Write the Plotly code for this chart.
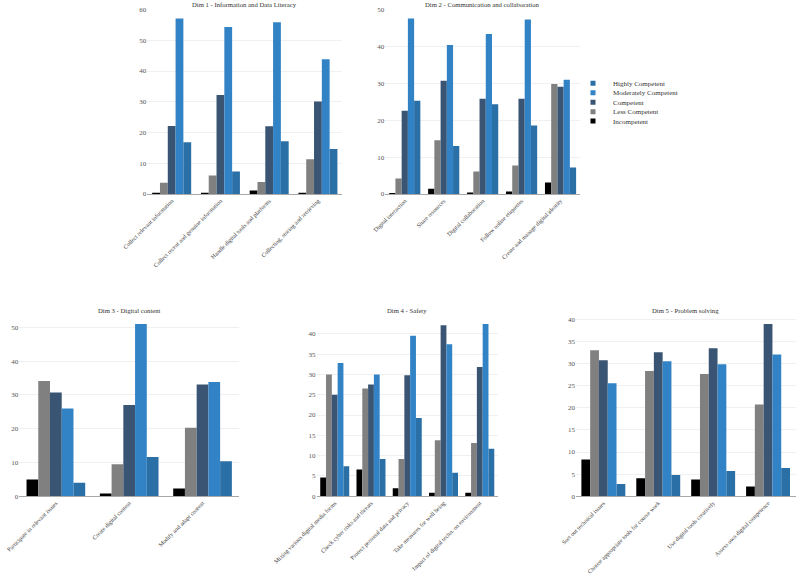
import plotly.graph_objects as go

W, H = 797, 579
FONT = "Liberation Serif"

levels = ["Incompetent", "Less Competent", "Competent", "Moderately Competent", "Highly Competent"]
colors = ["#000000", "#808080", "#3a5573", "#3283c6", "#2a6fa6"]

titles = [
    "Dim 1 - Information and Data Literacy",
    "Dim 2 - Communication and collaboration",
    "Dim 3 - Digital content",
    "Dim 4 - Safety",
    "Dim 5 - Problem solving",
]

dim1_items = ["Collect relevant information", "Collect recent and genuine information",
              "Handle digital tools and platforms", "Collecting, storing and retrieving"]
dim1_incompetent = [0.4, 0.4, 1.1, 0.4]
dim1_less = [3.7, 6.0, 3.9, 11.3]
dim1_competent = [22.1, 32.2, 22.0, 30.1]
dim1_moderately = [57.1, 54.3, 55.9, 43.8]
dim1_highly = [16.8, 7.3, 17.2, 14.6]

dim2_items = ["Digital interaction", "Share resources", "Digital collaboration",
              "Follow online etiquettes", "Create and manage digital identity"]
dim2_incompetent = [0.3, 1.4, 0.4, 0.7, 3.1]
dim2_less = [4.2, 14.6, 6.1, 7.7, 29.8]
dim2_competent = [22.6, 30.7, 25.8, 25.8, 29.1]
dim2_moderately = [47.6, 40.4, 43.4, 47.3, 31.0]
dim2_highly = [25.3, 13.0, 24.3, 18.6, 7.2]

dim3_items = ["Participate in relevant issues", "Create digital content", "Modify and adapt content"]
dim3_incompetent = [5.0, 0.8, 2.3]
dim3_less = [34.1, 9.5, 20.3]
dim3_competent = [30.7, 27.0, 33.1]
dim3_moderately = [26.0, 51.0, 33.8]
dim3_highly = [4.0, 11.6, 10.4]

dim4_items = ["Mixing various digital media forms", "Check cyber risks and threats",
              "Protect personal data and privacy", "Take measures for well being",
              "Impact of digital techn. on environment"]
dim4_incompetent = [4.6, 6.6, 2.0, 0.9, 0.9]
dim4_less = [30.0, 26.5, 9.2, 13.8, 13.1]
dim4_competent = [25.0, 27.5, 29.8, 42.1, 31.8]
dim4_moderately = [32.8, 30.0, 39.5, 37.4, 42.4]
dim4_highly = [7.4, 9.2, 19.3, 5.8, 11.7]

dim5_items = ["Sort out technical issues", "Choose appropriate tools for course work",
              "Use digital tools creatively", "Assess own digital competence"]
dim5_incompetent = [8.3, 4.1, 3.8, 2.2]
dim5_less = [33.0, 28.3, 27.6, 20.7]
dim5_competent = [30.7, 32.5, 33.4, 38.9]
dim5_moderately = [25.5, 30.5, 29.8, 32.0]
dim5_highly = [2.8, 4.8, 5.7, 6.4]

# (categories, series, tick step, axis top)
dims = [
    (dim1_items, [dim1_incompetent, dim1_less, dim1_competent, dim1_moderately, dim1_highly], 10, 60.05),
    (dim2_items, [dim2_incompetent, dim2_less, dim2_competent, dim2_moderately, dim2_highly], 10, 50.05),
    (dim3_items, [dim3_incompetent, dim3_less, dim3_competent, dim3_moderately, dim3_highly], 10, None),
    (dim4_items, [dim4_incompetent, dim4_less, dim4_competent, dim4_moderately, dim4_highly], 5, None),
    (dim5_items, [dim5_incompetent, dim5_less, dim5_competent, dim5_moderately, dim5_highly], 5, None),
]

# subplot placement in window pixels (left, right, top, bottom)
boxes = [
    (147.3, 342.3, 9.4, 194.0),
    (385.3, 580.0, 9.4, 194.0),
    (19.2, 239.2, 315.4, 496.3),
    (316.6, 497.9, 315.4, 496.3),
    (575.9, 795.5, 315.4, 496.3),
]


def px(x):
    return x / W


def py(y):
    return 1 - y / H


fig = go.Figure()
layout = dict(
    width=W, height=H,
    margin=dict(l=0, r=0, t=0, b=0),
    paper_bgcolor="white", plot_bgcolor="white",
    barmode="group", bargap=0.2, bargroupgap=0,
    hovermode=False,
    font=dict(family=FONT, size=7, color="#444"),
    annotations=[],
)

for i, ((items, series, dt, top), (l, r, t, b)) in enumerate(zip(dims, boxes)):
    n = "" if i == 0 else str(i + 1)
    for lvl, col, vals in zip(levels, colors, series):
        fig.add_trace(go.Bar(
            x=items, y=vals, name=lvl, marker=dict(color=col, line=dict(width=0)),
            xaxis="x" + n, yaxis="y" + n, showlegend=False,
        ))
    ymax = top if top is not None else max(max(s) for s in series) * 1.05
    layout["xaxis" + n] = dict(
        domain=[px(l), px(r)], anchor="y" + n, tickangle=-45,
        showline=True, linecolor="#a8a8a8", linewidth=1, ticks="",
        tickfont=dict(family=FONT, size=6, color="#444"), automargin=False,
        showgrid=False, fixedrange=True,
    )
    layout["yaxis" + n] = dict(
        domain=[py(b), py(t)], anchor="x" + n, range=[0, ymax], dtick=dt,
        showgrid=True, gridcolor="#f0f0f0", gridwidth=1, zeroline=False,
        showline=False, ticks="", tickfont=dict(family=FONT, size=7, color="#555"),
        automargin=False, fixedrange=True,
    )
    ty = 4.5 if i < 2 else 310.7
    layout["annotations"].append(dict(
        text=titles[i], x=px((l + r) / 2), y=py(ty), xref="paper", yref="paper",
        xanchor="center", yanchor="middle", showarrow=False,
        font=dict(family=FONT, size=6.7, color="#333"),
    ))

# legend: one entry per legend so the entries can sit close together
legend_y = [83.3, 92.7, 102.3, 111.7, 121.0]
for k, (lvl, col) in enumerate(zip(levels[::-1], colors[::-1])):
    lname = "legend" if k == 0 else "legend" + str(k + 1)
    fig.add_trace(go.Scatter(
        x=[None], y=[None], mode="markers", name=lvl,
        marker=dict(symbol="square", size=5, color=col),
        legend=lname, showlegend=True, xaxis="x", yaxis="y",
    ))
    layout[lname] = dict(
        x=px(593 - 20), xanchor="left", y=py(legend_y[k]), yanchor="middle",
        bgcolor="rgba(0,0,0,0)", borderwidth=0, itemsizing="trace",
        font=dict(family=FONT, size=7, color="#333"),
    )

fig.update_layout(**layout)
fig.write_html("out.html", config={"displayModeBar": False, "staticPlot": True},
               post_script="document.body.style.margin='0px';")
